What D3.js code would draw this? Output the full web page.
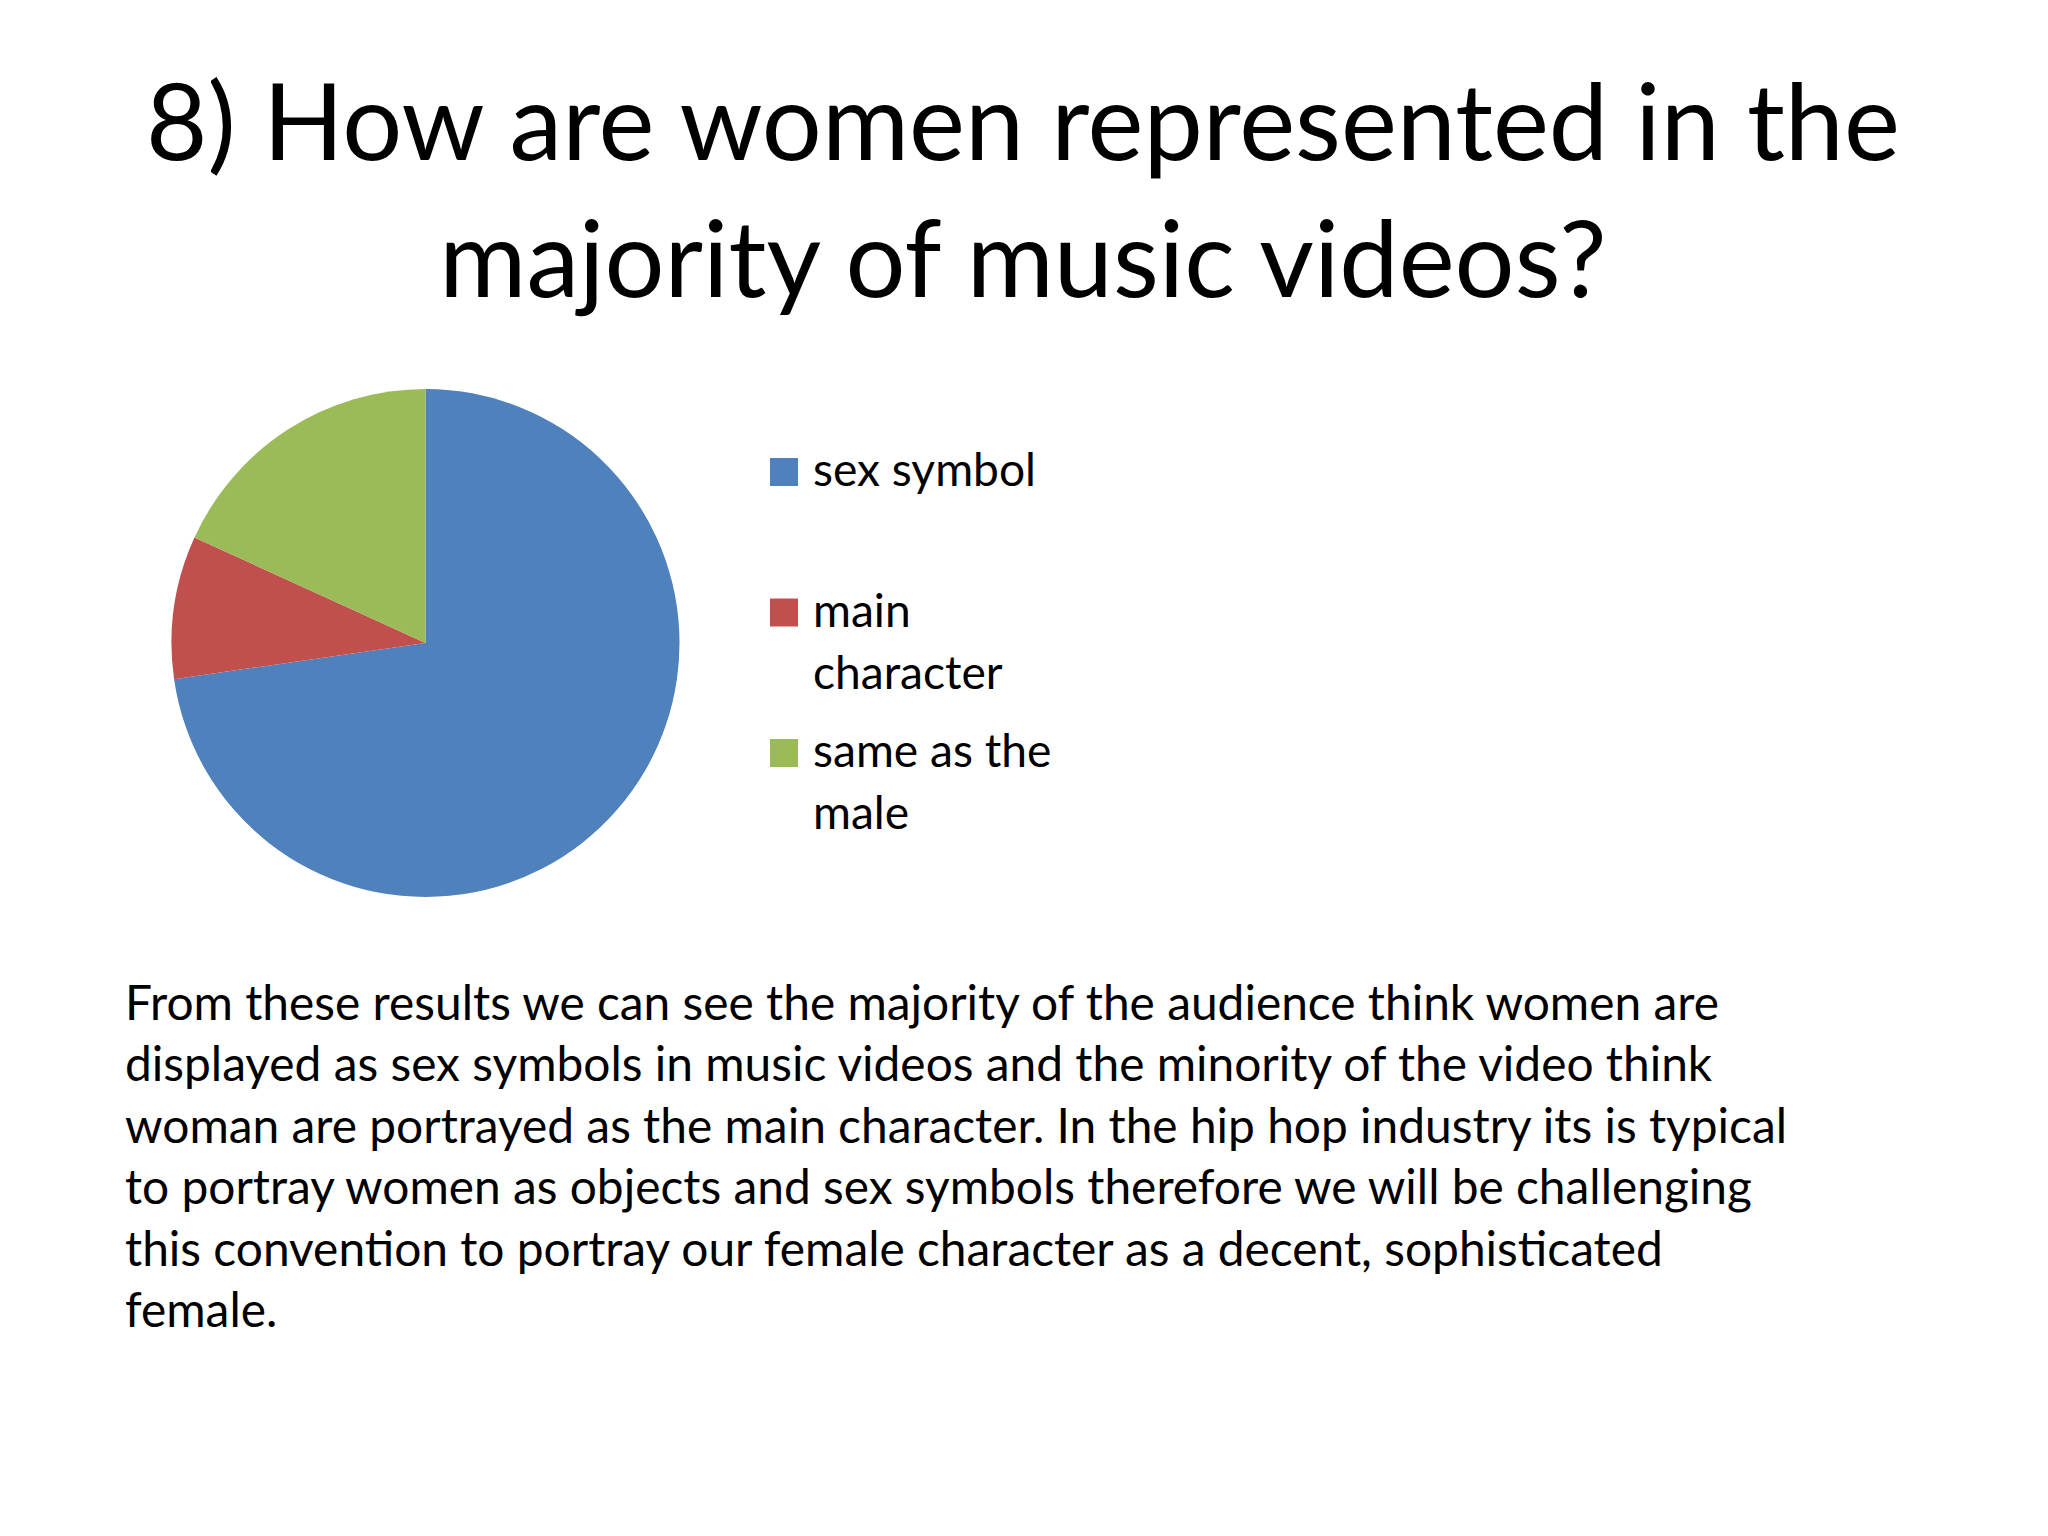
<script src="https://d3js.org/d3.v7.min.js"></script>
<style>
  body { margin: 0; background: #ffffff; }
  text { font-family: Lato, "Open Sans", sans-serif; fill: #000; }
</style>
<body>
<svg id="slide" width="2048" height="1536"></svg>
</body>
<script>
    // survey answers
    const categories = ["sex symbol", "main character", "same as the male"];
    const responses = [8, 1, 2];
    const legendLines = [["sex symbol"], ["main", "character"], ["same as the", "male"]];
    const colors = ["#4F81BD", "#C0504D", "#9BBB59"];

    const titleLines = ["8) How are women represented in the", "majority of music videos?"];
    const bodyLines = [
        "From these results we can see the majority of the audience think women are",
        "displayed as sex symbols in music videos and the minority of the video think",
        "woman are portrayed as the main character. In the hip hop industry its is typical",
        "to portray women as objects and sex symbols therefore we will be challenging",
        "this convention to portray our female character as a decent, sophisticated",
        "female."
    ];

    const svg = d3.select("#slide");
    svg.append("rect").attr("width", 2048).attr("height", 1536).attr("fill", "#ffffff");

    // scale a font size so that a reference string gets a target width
    function fitSize(str, width) {
        const t = svg.append("text").attr("font-size", 100).text(str);
        const len = t.node().getComputedTextLength();
        t.remove();
        return 100 * width / len;
    }

    // title
    const titleSize = fitSize(titleLines[0], 1754);
    svg.append("g").selectAll("text")
        .data(titleLines)
        .enter()
        .append("text")
        .attr("x", 1023)
        .attr("y", (d, i) => 160 + i * 137)
        .attr("text-anchor", "middle")
        .attr("font-size", titleSize)
        .text(d => d);

    // pie
    const color = d3.scaleOrdinal().domain(categories).range(colors);
    const pie = d3.pie().sort(null).value(d => d.value);
    const arc = d3.arc().innerRadius(0).outerRadius(254);
    const pieData = categories.map((c, i) => ({ name: c, value: responses[i] }));

    svg.append("g")
        .attr("transform", "translate(425.5, 643)")
        .selectAll("path")
        .data(pie(pieData))
        .enter()
        .append("path")
        .attr("d", arc)
        .attr("fill", d => color(d.data.name));

    // legend
    const legendSize = fitSize(legendLines[0][0], 223);
    const legend = svg.append("g")
        .selectAll("g")
        .data(categories)
        .enter()
        .append("g")
        .attr("transform", (d, i) => "translate(770," + (458 + i * 140.5) + ")");

    legend.append("rect")
        .attr("width", 28)
        .attr("height", 28)
        .attr("fill", d => color(d));

    legend.append("text")
        .attr("font-size", legendSize)
        .selectAll("tspan")
        .data((d, i) => legendLines[i])
        .enter()
        .append("tspan")
        .attr("x", 43)
        .attr("y", (d, j) => 28 + j * 62)
        .text(d => d);

    // paragraph under the chart
    const bodySize = fitSize(bodyLines[0], 1594);
    svg.append("g").selectAll("text")
        .data(bodyLines)
        .enter()
        .append("text")
        .attr("x", 125)
        .attr("y", (d, i) => 1020 + i * 61.4)
        .attr("font-size", bodySize)
        .text(d => d);
</script>
